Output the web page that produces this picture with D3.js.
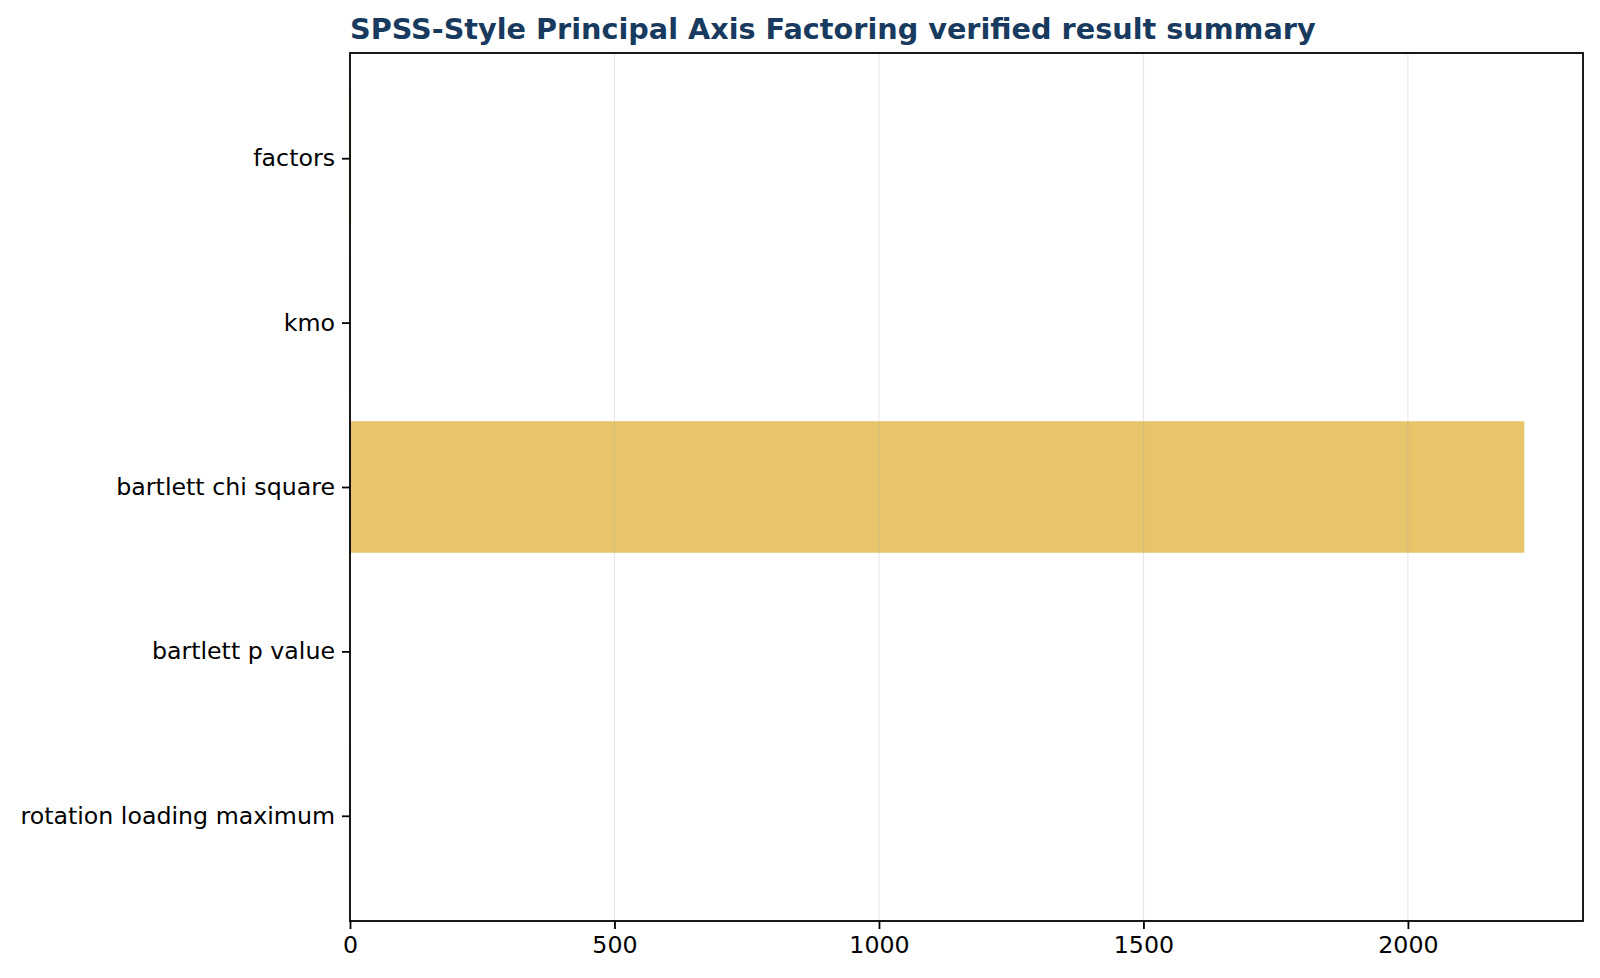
<!DOCTYPE html>
<html>
<head>
<meta charset="utf-8">
<script src="https://d3js.org/d3.v7.min.js"></script>
<style>
  html, body { margin: 0; padding: 0; background: #fff; }
  svg { display: block; font-family: "DejaVu Sans", sans-serif; }
</style>
</head>
<body>
<div id="chart"></div>
<script>
// Summary metrics (top to bottom) and their values
const metrics = ['factors', 'kmo', 'bartlett chi square', 'bartlett p value', 'rotation loading maximum'];
const values = [2, 0.82, 2220, 0, 0.86];
const xTicks = [0, 500, 1000, 1500, 2000];

const width = 1600;
const height = 978;
const margin = { top: 53, right: 17, bottom: 57, left: 350 };
const innerW = width - margin.left - margin.right;
const innerH = height - margin.top - margin.bottom;

const svg = d3.select('#chart')
  .append('svg')
  .attr('width', width)
  .attr('height', height);

const g = svg.append('g')
  .attr('transform', `translate(${margin.left}, ${margin.top})`);

// matplotlib style: 5% margin on the x data range
const xMax = d3.max(values) * 1.05;
const x = d3.scaleLinear()
  .domain([0, xMax])
  .range([0, innerW]);

// band positions: bars 0.8 wide, y limits -0.4..4.4 padded by 5%
const n = metrics.length;
const span = (n - 0.2) * 1.1;
const yIdx = d3.scaleLinear()
  .domain([-0.4 - (n - 0.2) * 0.05, -0.4 - (n - 0.2) * 0.05 + span])
  .range([0, innerH]);

// bars
g.selectAll('.bar')
  .data(values)
  .enter()
  .append('rect')
  .attr('class', 'bar')
  .attr('x', x(0))
  .attr('y', (d, i) => yIdx(i - 0.4))
  .attr('width', d => x(d) - x(0))
  .attr('height', (d, i) => yIdx(i + 0.4) - yIdx(i - 0.4))
  .attr('fill', '#e8c46b');

// vertical grid
g.append('g')
  .selectAll('line')
  .data(xTicks)
  .enter()
  .append('line')
  .attr('x1', d => x(d))
  .attr('x2', d => x(d))
  .attr('y1', 0)
  .attr('y2', innerH)
  .attr('stroke', '#b0b0b0')
  .attr('stroke-opacity', 0.3)
  .attr('stroke-width', 1.2);

// X axis
const xAxis = g.append('g')
  .attr('transform', `translate(0, ${innerH})`)
  .call(d3.axisBottom(x).tickValues(xTicks).tickFormat(d3.format('d')).tickSize(8).tickPadding(7));
xAxis.select('.domain').remove();
xAxis.selectAll('line').attr('stroke', '#000').attr('stroke-width', 1.8);
xAxis.selectAll('text').attr('font-size', '23.7px').attr('fill', '#000')
  .attr('font-family', '"DejaVu Sans", sans-serif');

// Y axis
const yAxis = g.append('g')
  .call(d3.axisLeft(yIdx).tickValues(d3.range(n)).tickFormat(i => metrics[i]).tickSize(8).tickPadding(7));
yAxis.select('.domain').remove();
yAxis.selectAll('line').attr('stroke', '#000').attr('stroke-width', 1.8);
yAxis.selectAll('text').attr('font-size', '23.7px').attr('fill', '#000')
  .attr('font-family', '"DejaVu Sans", sans-serif');

// frame
g.append('rect')
  .attr('x', 0)
  .attr('y', 0)
  .attr('width', innerW)
  .attr('height', innerH)
  .attr('fill', 'none')
  .attr('stroke', '#000')
  .attr('stroke-width', 1.8);

// Title
svg.append('text')
  .attr('x', margin.left)
  .attr('y', 39)
  .attr('font-size', '28.7px')
  .attr('font-weight', 'bold')
  .attr('fill', '#173a5e')
  .text('SPSS-Style Principal Axis Factoring verified result summary');
</script>
</body>
</html>
